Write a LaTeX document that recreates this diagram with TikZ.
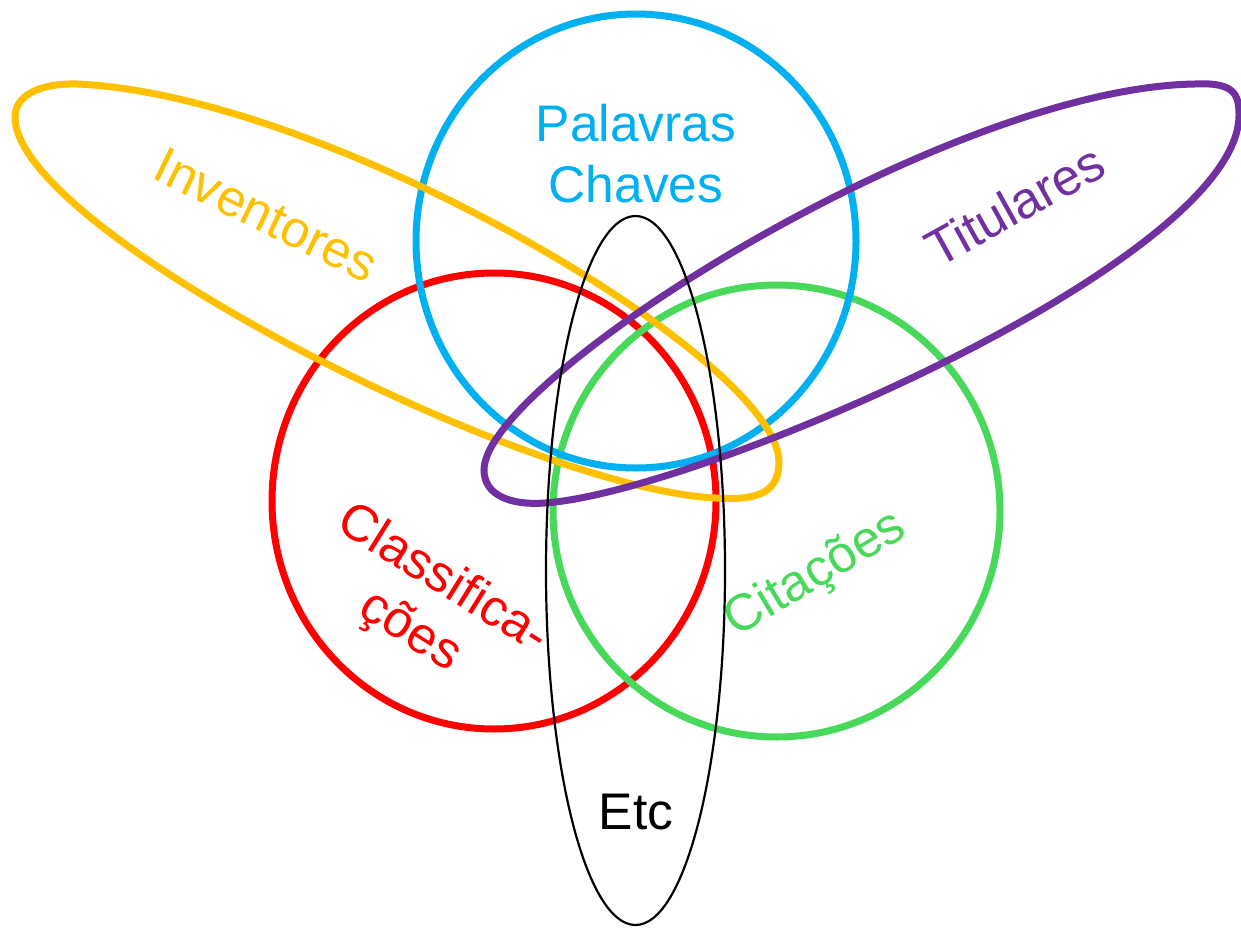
\documentclass[tikz,border=0pt]{standalone}
\usepackage{fontspec}
\setmainfont{Liberation Sans}
\definecolor{cblue}{HTML}{00B0F0}
\definecolor{cyellow}{HTML}{FFC000}
\definecolor{cred}{HTML}{FF0000}
\definecolor{cgreen}{HTML}{48D95A}
\definecolor{cpurple}{HTML}{7030A0}
\tikzset{
  setline/.style={line width=7pt},
  etcline/.style={line width=2.2pt, black},
  lbl/.style={inner sep=0pt, align=center, font=\fontsize{51.5}{61}\selectfont},
}
\begin{document}
\begin{tikzpicture}[x=1pt,y=-1pt]
\useasboundingbox[fill=white] (0,0) rectangle (1241,928);
% circles
\draw[setline, cred] (494,501) ellipse [x radius=222pt, y radius=228pt];
\draw[setline, cgreen] (776.5,511) ellipse [x radius=223.5pt, y radius=226pt];
\draw[setline, cblue] (636,241) ellipse [x radius=220pt, y radius=227pt];
% inventores (yellow)
\draw[setline, cyellow] (15,117) .. controls (15,93) and (45,83) .. (77,84)
  .. controls (330,95) and (779,360) .. (779,462)
  .. controls (779,497) and (750,500) .. (715,498)
  .. controls (520,487) and (15,230) .. cycle;
% titulares (purple)
\draw[setline, cpurple] (484,470) .. controls (484,380) and (945,88) .. (1195,84)
  .. controls (1235,82) and (1239,95) .. (1239,115)
  .. controls (1239,260) and (700,492) .. (545,503)
  .. controls (510,505.5) and (484,495) .. cycle;
% etc ellipse
\draw[etcline] (635.5,570.5) ellipse [x radius=89.5pt, y radius=354.5pt];
% labels
\node[lbl, text=cblue] (palavras) at (636,154) {Palavras\\Chaves};
\node[lbl, text=cyellow, rotate=-26] (inventores) at (266,215) {Inventores};
\node[lbl, text=cpurple, rotate=29] (titulares) at (1015,205) {Titulares};
\node[lbl, text=cred, rotate=-32] (classif) at (426,606) {Classifica-\\ções};
\node[lbl, text=cgreen, rotate=31] (citacoes) at (816,575) {Citações};
\node[lbl, text=black] (etc) at (636,812) {Etc};
\end{tikzpicture}
\end{document}
